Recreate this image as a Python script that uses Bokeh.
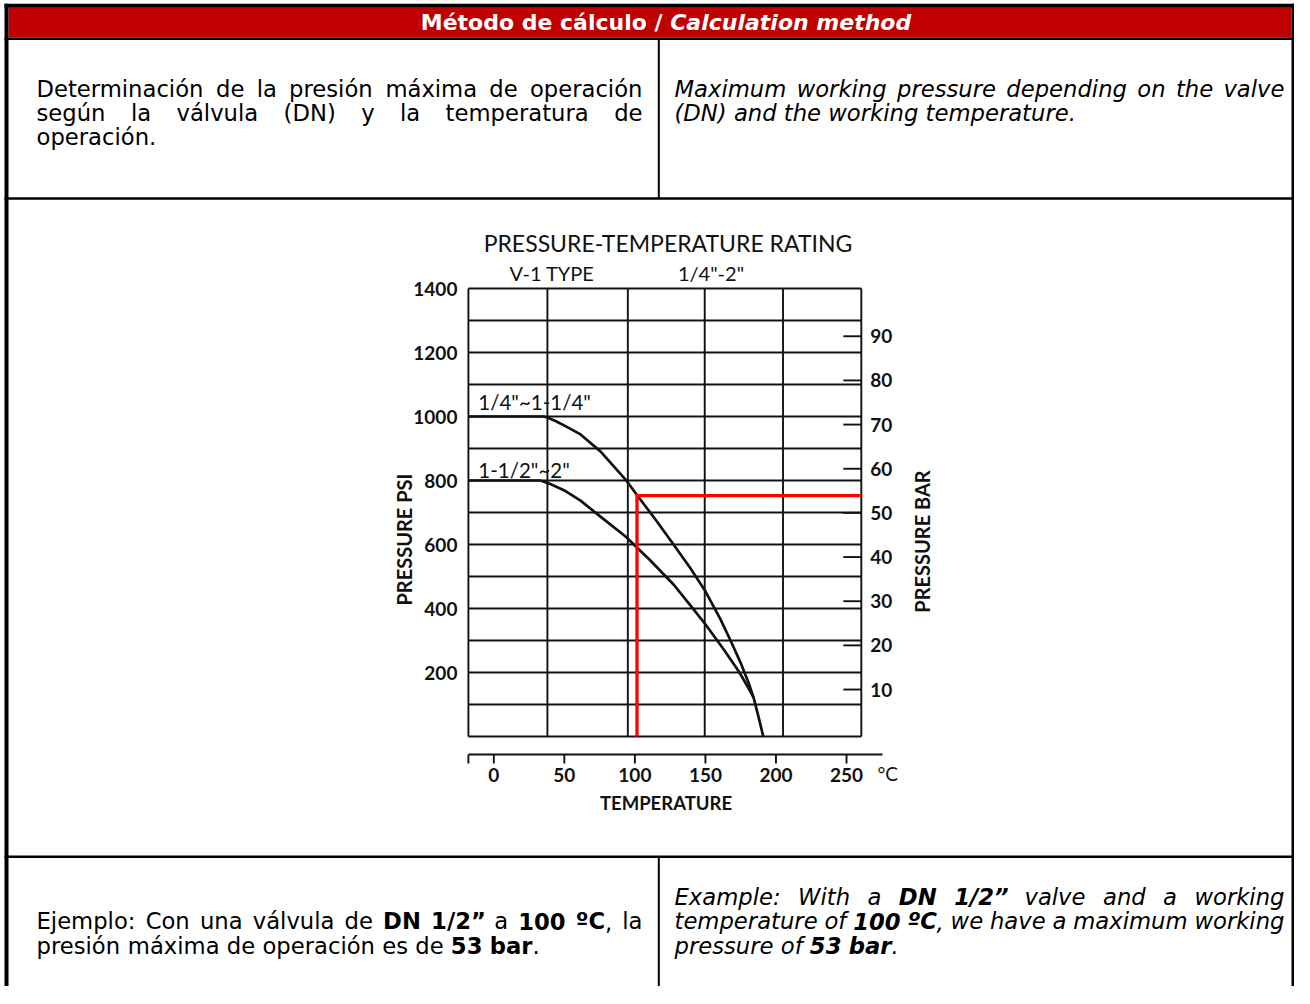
import math
from bokeh.plotting import figure
from bokeh.models import Range1d, ColumnDataSource
from bokeh.core.properties import value
from bokeh.embed import file_html
from bokeh.resources import INLINE

# ---------------- chart data ----------------
temp_ticks = [0, 50, 100, 150, 200, 250]
temp_tick_labels = ["0", "50", "100", "150", "200", "250"]
psi_ticks = [200, 400, 600, 800, 1000, 1200, 1400]
psi_tick_labels = ["200", "400", "600", "800", "1000", "1200", "1400"]
bar_ticks = [10, 20, 30, 40, 50, 60, 70, 80, 90]
bar_tick_labels = ["10", "20", "30", "40", "50", "60", "70", "80", "90"]
grid_temp = [-18, 38, 95, 149.5, 205, 260.5]
grid_psi = [0, 100, 200, 300, 400, 500, 600, 700, 800, 900, 1000, 1100, 1200, 1300, 1400]
axis_temp = [-18, 275.5]

upper_label = '1/4"~1-1/4"'
upper_temp = [-18, 35.2, 37.9, 43.7, 50.8, 61.5, 75.6, 93.4, 101.6, 114.6, 127.4, 139.5,
              150.1, 160.7, 167.8, 174.9, 180.5, 184.1, 187.6, 191]
upper_psi = [1000, 1000, 997, 986, 970, 944, 891, 803, 754, 678, 600, 525,
             453, 366, 300, 231, 169, 122, 62, 0]
lower_label = '1-1/2"~2"'
lower_temp = [-18, 33.1, 40.1, 50.8, 61.5, 75.6, 93.4, 101.6, 111, 127.4, 139.5, 150.1,
              163, 173.7, 180.7, 184.1]
lower_psi = [800, 800, 789, 767, 737, 687, 625, 590, 550, 475, 409, 350,
             272, 203, 150, 122]
curve_label_temp = [-11, -11]
curve_label_psi = [1044, 834]

example_temp = 101.5
example_psi = 753

chart_title = "PRESSURE-TEMPERATURE RATING"
chart_sub_left = "V-1 TYPE"
chart_sub_right = '1/4"-2"'
x_title = "TEMPERATURE"
x_unit = "°C"
y_left_title = "PRESSURE PSI"
y_right_title = "PRESSURE BAR"

# ---------------- document texts ----------------
header_left = "Método de cálculo / "
header_right = "Calculation method"
top_left_lines = ["Determinación de la presión máxima de operación",
                  "según la válvula (DN) y la temperatura de",
                  "operación."]
top_right_lines = ["Maximum working pressure depending on the valve",
                   "(DN) and the working temperature."]
bottom_left_lines = ["Ejemplo: Con una válvula de *DN* *1/2”* a *100* *ºC*, la",
                     "presión máxima de operación es de *53 bar*."]
bottom_right_lines = ["Example: With a *DN* *1/2”* valve and a working",
                      "temperature of *100* *ºC*, we have a maximum working",
                      "pressure of *53 bar*."]

# ---------------- page geometry (figure pixels, top-left origin) ----------------
W, H = 1294, 986


def PX(x):
    return x


def PY(y):
    return H - y


T0_X, T_PX = 493.3, 1.4108      # x of 0 degC, px per degC
P0_Y, P_PX = 736.0, 0.32        # y of 0 psi, px per psi
B0_Y, B_PX = 733.2, 4.416       # y of 0 bar, px per bar

p = figure(width=W, height=H, x_range=Range1d(0, W), y_range=Range1d(0, H),
           output_backend="svg", toolbar_location=None, min_border=0,
           x_axis_location=None, y_axis_location=None)
p.grid.visible = False
p.outline_line_color = None
p.background_fill_color = "white"
p.border_fill_color = "white"

p.extra_x_ranges = {"temp": Range1d((0 - T0_X) / T_PX, (W - T0_X) / T_PX)}
p.extra_y_ranges = {"psi": Range1d((P0_Y - H) / P_PX, P0_Y / P_PX),
                    "bar": Range1d((B0_Y - H) / B_PX, B0_Y / B_PX)}

# ---------------- table frame ----------------
p.quad(left=PX(8), right=PX(1291), top=PY(7.3), bottom=PY(37.3),
       fill_color="#C00000", line_color=None)
hlines = [(4, 1294, 5.3, 4), (4, 1294, 38.3, 2.2), (4, 1294, 198, 2.6), (4, 1294, 856.2, 2.4)]
vlines = [(6, 3.3, 986, 4), (1292.5, 3.3, 986, 3), (658.3, 38, 198, 2), (658.3, 856, 986, 2)]
for x0, x1, y, lw in hlines:
    p.segment(x0=PX(x0), x1=PX(x1), y0=PY(y), y1=PY(y), line_color="black", line_width=lw)
for x, y0, y1, lw in vlines:
    p.segment(x0=PX(x), x1=PX(x), y0=PY(y0), y1=PY(y1), line_color="black", line_width=lw)

# ---------------- text layout helpers (DejaVu Sans advance widths, 1/1000 em) ----------------
DR = {' ': 318, '!': 400, '"': 460, '(': 390, ')': 390, ',': 318, '-': 361, '.': 318,
      '/': 337, ':': 337, 'º': 471, '”': 518, '°': 500,
      'A': 684, 'B': 686, 'C': 698, 'D': 770, 'E': 632, 'F': 575, 'G': 775, 'H': 752,
      'I': 295, 'J': 295, 'K': 656, 'L': 557, 'M': 863, 'N': 748, 'O': 787, 'P': 603,
      'Q': 787, 'R': 695, 'S': 635, 'T': 611, 'U': 732, 'V': 684, 'W': 989, 'X': 685,
      'Y': 611, 'Z': 685,
      'a': 613, 'b': 635, 'c': 550, 'd': 635, 'e': 615, 'f': 352, 'g': 635, 'h': 634,
      'i': 278, 'j': 278, 'k': 579, 'l': 278, 'm': 974, 'n': 634, 'o': 612, 'p': 635,
      'q': 635, 'r': 411, 's': 521, 't': 392, 'u': 634, 'v': 592, 'w': 818, 'x': 592,
      'y': 592, 'z': 525, 'á': 613, 'é': 615, 'í': 278, 'ó': 612, 'ú': 634, 'ñ': 634}
DB = {' ': 348, ',': 380, '.': 380, '/': 365, ':': 400, '”': 575, 'º': 550, '"': 521,
      'A': 774, 'B': 762, 'C': 734, 'D': 830, 'E': 683, 'M': 995, 'N': 837, 'W': 1103,
      'a': 675, 'b': 716, 'c': 593, 'd': 716, 'e': 678, 'h': 712, 'i': 343, 'l': 343,
      'm': 1042, 'n': 712, 'o': 687, 'r': 493, 't': 478, 'u': 712, 'é': 678, 'á': 675}
for d in "0123456789":
    DR[d] = 636
    DB[d] = 696


def text_w(s, bold, size):
    tbl = DB if bold else DR
    return sum(tbl.get(c, DR.get(c, 620)) for c in s) * size / 1000.0


def parse_words(line):
    words, cur, seg, bold = [], [], "", False
    for ch in line:
        if ch == "*":
            if seg:
                cur.append((seg, bold))
                seg = ""
            bold = not bold
        elif ch == " ":
            if seg:
                cur.append((seg, bold))
                seg = ""
            if cur:
                words.append(cur)
                cur = []
        else:
            seg += ch
    if seg:
        cur.append((seg, bold))
    if cur:
        words.append(cur)
    return words


FONT = "DejaVu Sans"
BODY = 22.7
sinks = {}


def add_text(x, y, t, style):
    d = sinks.setdefault(style, {"x": [], "y": [], "text": []})
    d["x"].append(PX(x))
    d["y"].append(PY(y))
    d["text"].append(t)


def layout_line(line, x_left, x_right, y_mid, justify, italic):
    words = parse_words(line)
    widths = [sum(text_w(t, b, BODY) for t, b in w) for w in words]
    if justify and len(words) > 1:
        gap = (x_right - x_left - sum(widths)) / (len(words) - 1)
    else:
        gap = text_w(" ", False, BODY)
    x = x_left
    for w, ww in zip(words, widths):
        xx = x
        for t, b in w:
            style = ("bold " if b else "") + ("italic" if italic else "")
            add_text(xx, y_mid, t, style.strip() or "normal")
            xx += text_w(t, b, BODY)
        x += ww + gap


def layout_par(lines, x_left, x_right, first_center, pitch, italic):
    for i, ln in enumerate(lines):
        layout_line(ln, x_left, x_right, first_center + i * pitch, i < len(lines) - 1, italic)


layout_par(top_left_lines, 36, 642, 88, 24, False)
layout_par(top_right_lines, 674, 1284, 88, 24, True)
layout_par(bottom_left_lines, 36, 642, 920.5, 24.5, False)
layout_par(bottom_right_lines, 674, 1284, 896, 24.5, True)

for style, d in sinks.items():
    p.text(x="x", y="y", text="text", source=ColumnDataSource(d),
           text_font=value(FONT), text_font_size=f"{BODY}px",
           text_font_style=style, text_color="black",
           text_align="left", text_baseline="middle")

# header
HS = 22
wl = text_w(header_left, True, HS)
wr = text_w(header_right, True, HS)
hx0 = 665.5 - (wl + wr) / 2
hy = 22.3
p.text(x=[PX(hx0)], y=[PY(hy)], text=[header_left], text_font=value(FONT),
       text_font_size=f"{HS}px", text_font_style="bold", text_color="white",
       text_align="left", text_baseline="middle")
p.text(x=[PX(hx0 + wl)], y=[PY(hy)], text=[header_right], text_font=value(FONT),
       text_font_size=f"{HS}px", text_font_style="bold italic", text_color="white",
       text_align="left", text_baseline="middle")

# ---------------- chart ----------------
CF = value("Lato")
INK = "#111111"
R = dict(x_range_name="temp", y_range_name="psi")

# grid
p.segment(x0=grid_temp, x1=grid_temp, y0=[grid_psi[0]] * len(grid_temp),
          y1=[grid_psi[-1]] * len(grid_temp), line_color=INK, line_width=1.9, **R)
p.segment(x0=[grid_temp[0]] * len(grid_psi), x1=[grid_temp[-1]] * len(grid_psi),
          y0=grid_psi, y1=grid_psi, line_color=INK, line_width=1.9, **R)

# curves
p.line(upper_temp, upper_psi, line_color=INK, line_width=2.7, line_join="round", **R)
p.line(lower_temp, lower_psi, line_color=INK, line_width=2.7, line_join="round", **R)

# red example
p.line([example_temp, example_temp, grid_temp[-1]], [grid_psi[0], example_psi, example_psi],
       line_color="#ff0000", line_width=3.3, line_join="miter", **R)

# curve labels
p.text(x=curve_label_temp, y=curve_label_psi, text=[upper_label, lower_label],
       text_font=CF, text_font_size="20.5px", text_color=INK, text_align="left",
       text_baseline="middle", **R)

# left tick labels
p.text(x=[grid_temp[0]] * len(psi_ticks), y=psi_ticks, text=psi_tick_labels, x_offset=-11,
       text_font=CF, text_font_size="19px", text_font_style="bold", text_color=INK,
       text_align="right", text_baseline="middle", **R)

# right bar scale
tick_len = 18 / T_PX
p.segment(x0=[grid_temp[-1] - tick_len] * len(bar_ticks), x1=[grid_temp[-1]] * len(bar_ticks),
          y0=bar_ticks, y1=bar_ticks, line_color=INK, line_width=1.9,
          x_range_name="temp", y_range_name="bar")
p.text(x=[grid_temp[-1]] * len(bar_ticks), y=bar_ticks, text=bar_tick_labels, x_offset=9,
       text_font=CF, text_font_size="19px", text_font_style="bold", text_color=INK,
       text_align="left", text_baseline="middle", x_range_name="temp", y_range_name="bar")

# bottom temperature axis (drawn below the grid)
AX_Y = PY(754)
TK_Y = PY(763)
p.segment(x0=[axis_temp[0]], x1=[axis_temp[1]], y0=[AX_Y], y1=[AX_Y], line_color=INK,
          line_width=1.9, x_range_name="temp")
tick_x = [axis_temp[0]] + temp_ticks
p.segment(x0=tick_x, x1=tick_x, y0=[AX_Y] * len(tick_x), y1=[TK_Y] * len(tick_x),
          line_color=INK, line_width=1.9, x_range_name="temp")
p.text(x=temp_ticks, y=[PY(774.5)] * len(temp_ticks), text=temp_tick_labels,
       text_font=CF, text_font_size="19px", text_font_style="bold", text_color=INK,
       text_align="center", text_baseline="middle", x_range_name="temp")
p.text(x=[axis_temp[1]], y=[PY(773)], text=[x_unit], x_offset=-5,
       text_font=CF, text_font_size="19px", text_color=INK,
       text_align="left", text_baseline="middle", x_range_name="temp")

# titles
p.text(x=[PX(667.5)], y=[PY(242.5)], text=[chart_title], text_font=CF, text_font_size="23px",
       text_color=INK, text_align="center", text_baseline="middle")
p.text(x=[PX(551.5), PX(710.5)], y=[PY(272.5), PY(272.5)], text=[chart_sub_left, chart_sub_right],
       text_font=CF, text_font_size="20px", text_color=INK, text_align="center",
       text_baseline="middle")
p.text(x=[PX(665.5)], y=[PY(802)], text=[x_title], text_font=CF, text_font_size="18.5px",
       text_font_style="bold", text_color=INK, text_align="center", text_baseline="middle")
p.text(x=[PX(403), PX(921)], y=[PY(539), PY(541)], text=[y_left_title, y_right_title],
       angle=math.pi / 2, text_font=CF, text_font_size="20px", text_font_style="bold",
       text_color=INK, text_align="center", text_baseline="middle")

open("out.html", "w").write(file_html(p, INLINE))
